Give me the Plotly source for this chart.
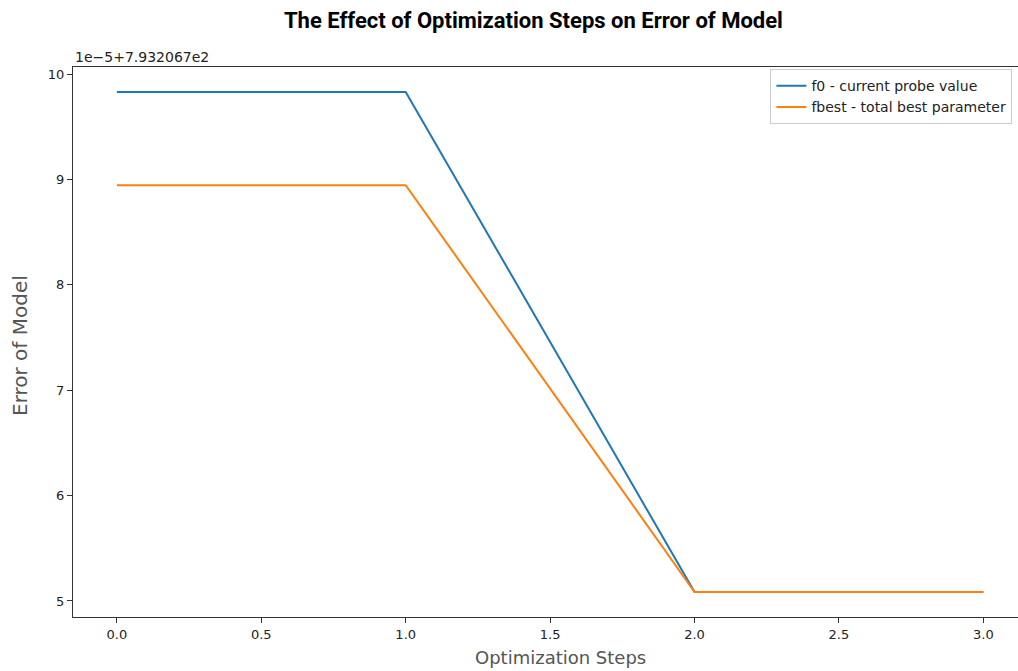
import plotly.graph_objects as go

steps = [0, 1, 2, 3]
f0_vals = [9.83, 9.83, 5.085, 5.085]       # in units of 1e-5, offset 793.2067
fbest_vals = [8.945, 8.945, 5.085, 5.085]
offset_text = "1e\u22125+7.932067e2"
x_ticks = [0, 0.5, 1.0, 1.5, 2.0, 2.5, 3.0]
y_ticks = [5, 6, 7, 8, 9, 10]

fig = go.Figure()
fig.add_trace(go.Scatter(x=steps, y=f0_vals, mode="lines", name="f0 - current probe value",
                         line=dict(color="#1f77b4", width=2)))
fig.add_trace(go.Scatter(x=steps, y=fbest_vals, mode="lines", name="fbest - total best parameter",
                         line=dict(color="#ff7f0e", width=2)))

axis_common = dict(showgrid=False, zeroline=False, showline=True, linecolor="#333",
                   linewidth=1.2, mirror=True, ticks="outside", ticklen=5, tickcolor="#333",
                   automargin=False,
                   tickfont=dict(family="DejaVu Sans", size=13, color="#222"))

fig.update_layout(
    width=1018, height=671, autosize=False,
    margin=dict(l=73, r=0, t=67, b=54),
    paper_bgcolor="white", plot_bgcolor="white",
    title=dict(text="<b>The Effect of Optimization Steps on Error of Model</b>",
               x=0.524, xanchor="center", y=0.97, yanchor="middle",
               font=dict(family="Liberation Sans Narrow, Roboto, sans-serif", size=22, color="#000")),
    xaxis=dict(range=[-0.152, 3.12], tickvals=x_ticks,
               ticktext=[f"{v:.1f}" for v in x_ticks], **axis_common),
    yaxis=dict(range=[4.848, 10.067], tickvals=y_ticks,
               ticktext=[str(v) for v in y_ticks], **axis_common),
    legend=dict(x=0.738, y=0.996, xanchor="left", yanchor="top",
                bgcolor="rgba(255,255,255,0.9)", bordercolor="#ccc", borderwidth=1,
                font=dict(family="DejaVu Sans", size=14, color="#222"),
                tracegroupgap=0, itemwidth=30),
    showlegend=True,
)
fig.add_annotation(text=offset_text, xref="paper", yref="paper", x=0.0, y=1.0,
                   xanchor="left", yanchor="bottom", showarrow=False,
                   font=dict(family="DejaVu Sans", size=14, color="#222"))
# axis titles
fig.add_annotation(text="Optimization Steps", xref="paper", yref="paper",
                   x=(560 - 73) / 945, y=0, yshift=-40, xanchor="center", yanchor="middle",
                   showarrow=False, font=dict(family="DejaVu Sans", size=18, color="#555"))
fig.add_annotation(text="Error of Model", xref="paper", yref="paper",
                   x=0, xshift=-53, y=(617 - 346) / 550, xanchor="center", yanchor="middle",
                   textangle=-90, showarrow=False,
                   font=dict(family="DejaVu Sans", size=20, color="#555"))

post = ("document.body.style.margin='0';document.body.style.overflow='hidden';"
        "var gd=document.getElementById('{plot_id}');"
        "gd.style.width='1018px';gd.style.height='671px';"
        "Plotly.relayout(gd,{width:1018,height:671});")
fig.write_html("out.html", config={"displayModeBar": False, "responsive": False},
               post_script=post)
